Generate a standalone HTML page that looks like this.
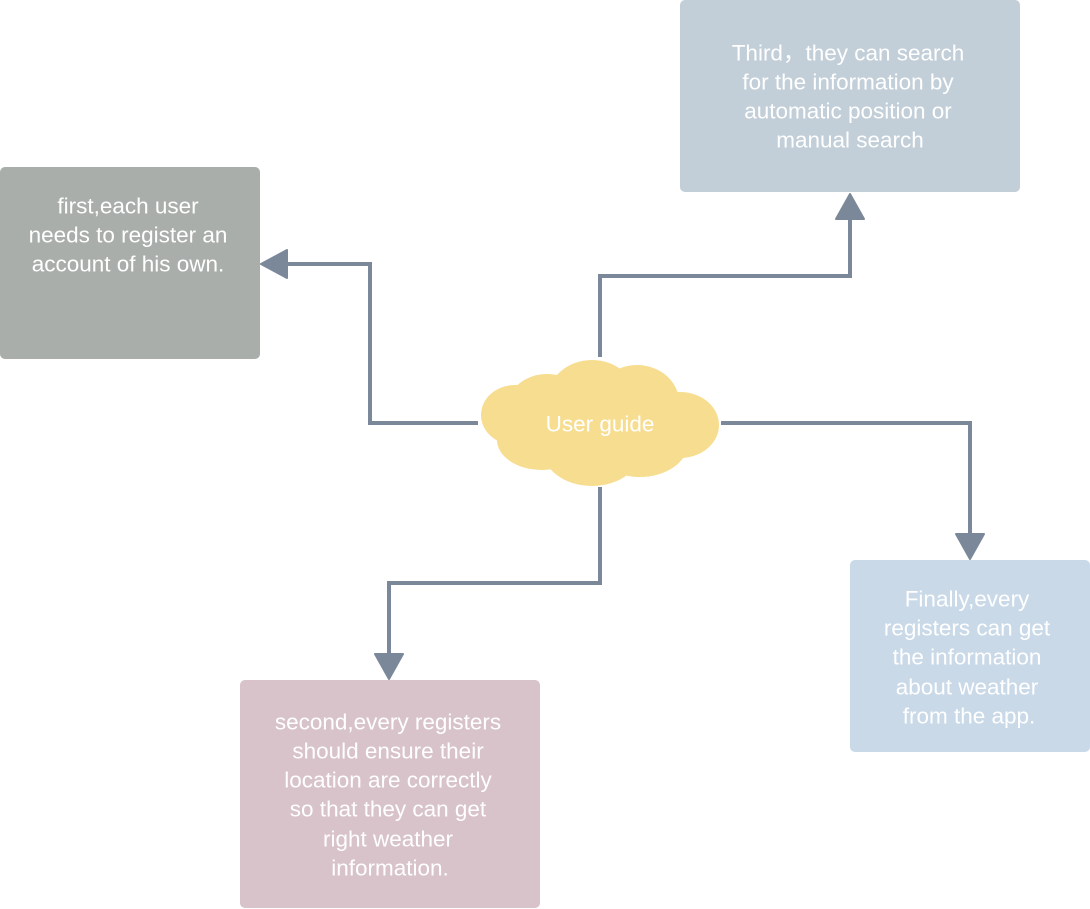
<!DOCTYPE html>
<html><head><meta charset="utf-8"><style>
html,body{margin:0;padding:0;background:#fff;width:1090px;height:909px;overflow:hidden}
svg{display:block}
text{font-family:"Liberation Sans","Noto Sans CJK SC",sans-serif;font-size:22.5px;fill:#fff;text-anchor:middle;dominant-baseline:central}
</style></head><body>
<svg width="1090" height="909" viewBox="0 0 1090 909">
<rect x="0" y="167" width="260" height="192" rx="5" fill="#a9aeaa"/>
<rect x="680" y="0" width="340" height="192" rx="5" fill="#c2cfd8"/>
<rect x="850" y="560" width="240" height="192" rx="5" fill="#c9d9e8"/>
<rect x="240" y="680" width="300" height="228" rx="5" fill="#d8c3cb"/>
<g fill="none" stroke="#7a8899" stroke-width="4">
<polyline points="478,423 370,423 370,264 285,264"/>
<polyline points="600,357 600,276 850,276 850,218"/>
<polyline points="721,423 970,423 970,535"/>
<polyline points="600,487 600,583 389,583 389,655"/>
</g>
<g fill="#7a8899" stroke="#7a8899" stroke-width="2" stroke-linejoin="round">
<polygon points="261,264 287,250 287,278"/>
<polygon points="850,194 836,219 864,219"/>
<polygon points="970,559 956,534 984,534"/>
<polygon points="389,679 375,654 403,654"/>
</g>
<g fill="#f7dd8f">
<ellipse cx="515" cy="415" rx="34" ry="30"/>
<ellipse cx="547" cy="408" rx="40" ry="34"/>
<ellipse cx="592" cy="400" rx="45" ry="40"/>
<ellipse cx="637" cy="402" rx="42" ry="37"/>
<ellipse cx="680" cy="425" rx="39" ry="33"/>
<ellipse cx="542" cy="440" rx="45" ry="30"/>
<ellipse cx="592" cy="448" rx="50" ry="38"/>
<ellipse cx="640" cy="443" rx="48" ry="34"/>
</g>
<text x="600" y="424">User guide</text>
<text x="128" y="206">first,each user</text>
<text x="128" y="235">needs to register an</text>
<text x="128" y="264">account of his own.</text>
<text x="848" y="53">Third，they can search</text>
<text x="848" y="82">for the information by</text>
<text x="848" y="111">automatic position or</text>
<text x="850" y="140">manual search</text>
<text x="967" y="599">Finally,every</text>
<text x="967" y="628">registers can get</text>
<text x="967" y="657">the information</text>
<text x="967" y="687">about weather</text>
<text x="969" y="716">from the app.</text>
<text x="388" y="722">second,every registers</text>
<text x="388" y="751">should ensure their</text>
<text x="388" y="780">location are correctly</text>
<text x="388" y="809">so that they can get</text>
<text x="388" y="839">right weather</text>
<text x="390" y="868">information.</text>
</svg>
</body></html>
